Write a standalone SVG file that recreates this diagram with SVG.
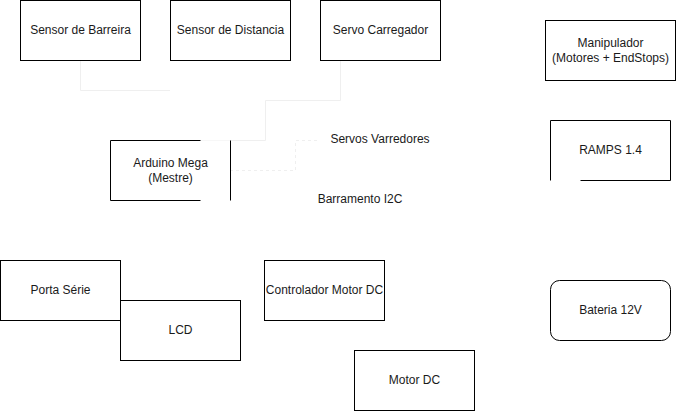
<svg xmlns="http://www.w3.org/2000/svg" width="676" height="411" viewBox="0 0 676 411">
<style>
.box{fill:#fff;stroke:#000;stroke-width:1}
.t{font-family:"Liberation Sans",Arial,Helvetica,sans-serif;font-size:12px;fill:#1a1a1a;text-anchor:middle;dominant-baseline:central}
.c{fill:none;stroke:#efefef;stroke-width:1}
.d{stroke-dasharray:3 3}
</style>
<rect width="676" height="411" fill="#fff"/>
<g id="connectors">
<path class="c" d="M80.5,60 V90.5 H170"/>
<path class="c" d="M340.5,60 V100.5 H265.5 V140.5 H200"/>
<path class="c d" d="M230,170.5 H295.5 V140.5 H320"/>
</g>
<g id="sensor-barreira"><rect class="box" x="20.5" y="0.5" width="120" height="60"/><text class="t" x="80.5" y="30">Sensor de Barreira</text></g>
<g id="sensor-distancia"><rect class="box" x="170.5" y="0.5" width="120" height="60"/><text class="t" x="230.5" y="30">Sensor de Distancia</text></g>
<g id="servo-carregador"><rect class="box" x="320.5" y="0.5" width="120" height="60"/><text class="t" x="380.5" y="30">Servo Carregador</text></g>
<g id="manipulador"><rect class="box" x="545.5" y="20.5" width="130" height="60"/><text class="t" x="610.5" y="43">Manipulador</text><text class="t" x="610.5" y="58">(Motores + EndStops)</text></g>
<g id="ramps"><rect class="box" x="550.5" y="120.5" width="120" height="60" stroke-dasharray="270 30 60"/><text class="t" x="610.5" y="150">RAMPS 1.4</text></g>
<g id="arduino-mega"><rect class="box" x="110.5" y="140.5" width="120" height="60" stroke-dasharray="90 30 60 30 150"/><text class="t" x="170.5" y="163">Arduino Mega</text><text class="t" x="170.5" y="178">(Mestre)</text></g>
<g id="servos-varredores"><text class="t" x="380" y="139">Servos Varredores</text></g>
<g id="barramento-i2c"><text class="t" x="360" y="199">Barramento I2C</text></g>
<g id="porta-serie"><rect class="box" x="0.5" y="260.5" width="120" height="60"/><text class="t" x="60.5" y="290">Porta Série</text></g>
<g id="lcd"><rect class="box" x="120.5" y="300.5" width="120" height="60"/><text class="t" x="180.5" y="330">LCD</text></g>
<g id="controlador-motor-dc"><rect class="box" x="264.5" y="260.5" width="120" height="60"/><text class="t" x="324.5" y="290">Controlador Motor DC</text></g>
<g id="motor-dc"><rect class="box" x="354.5" y="350.5" width="120" height="60"/><text class="t" x="414.5" y="380">Motor DC</text></g>
<g id="bateria"><rect class="box" x="550.5" y="280.5" width="120" height="60" rx="9" ry="9"/><text class="t" x="610.5" y="310">Bateria 12V</text></g>
</svg>
